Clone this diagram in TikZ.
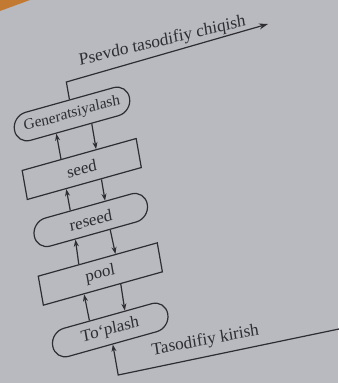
\documentclass[tikz,border=0pt]{standalone}
\usepackage{fontspec}
\setmainfont{Liberation Serif}
\usetikzlibrary{arrows.meta,calc}
\definecolor{paper}{RGB}{184,186,191}
\definecolor{ink}{RGB}{45,45,50}
\definecolor{desk}{RGB}{194,122,50}
\begin{document}
\begin{tikzpicture}[x=1pt,y=1pt,
  % the page is photographed at an angle: horizontals climb, verticals lean
  persp/.style={cm={1,0.28,-0.177,1,(0,0)}},
  box/.style={draw=ink, line width=1.2pt, rectangle, minimum height=29pt,
    inner sep=0pt, text=ink, font=\fontsize{16.5}{18}\selectfont},
  pill/.style={box, rounded corners=14pt, minimum height=28pt},
  caption/.style={text=ink, inner sep=0pt, anchor=base,
    font=\fontsize{17}{19}\selectfont},
  link/.style={draw=ink, line width=1.2pt, -{Stealth[length=7pt,width=5pt]}},
  biglink/.style={link, -{Stealth[length=9pt,width=6pt]}},
]
\fill[paper] (0,0) rectangle (338,-383);
\useasboundingbox (0,0) rectangle (338,-383);
\fill[desk] (0,0) -- (30,0) -- (0,-11) -- cycle;

% the flow column
\begin{scope}[shift={(72,-114)}, persp, transform shape]
  \node[pill, minimum width=115pt, font=\fontsize{15}{17}\selectfont] (gen) at (0,0) {Generatsiyalash};
  \node[box, minimum width=114pt] (seed) at (0,-55) {seed};
  \node[pill, minimum width=113pt] (reseed) at (0,-106) {reseed};
  \node[box, minimum width=119pt] (pool) at (0,-160) {pool};
  \node[pill, minimum width=115pt] (toplash) at (0,-216) {To‘plash};
  \coordinate (outknee) at (0,32);
  \coordinate (inknee) at (0,-261);
\end{scope}

\coordinate (outtip) at (268,-24);
\coordinate (inend) at (339,-329);

% up (left) and down (right) links between neighbours
\foreach \lo/\hi in {seed/gen, reseed/seed, pool/reseed, toplash/pool} {
  \draw[link] ($(\lo.north west)!0.343!(\lo.north east)$) -- ($(\hi.south west)!0.343!(\hi.south east)$);
  \draw[link] ($(\hi.south west)!0.648!(\hi.south east)$) -- ($(\lo.north west)!0.648!(\lo.north east)$);
}

% output and input lines
\draw[biglink] (gen.north) -- (outknee) -- (outtip);
\draw[link] (inend) -- (inknee) -- (toplash.south);

\begin{scope}[shift={(163,-45.5)}, cm={1,0.24,-0.15,1,(0,0)}, transform shape]
  \node[caption] (outlabel) at (0,0) {Psevdo tasodifiy chiqish};
\end{scope}
\begin{scope}[shift={(206,-345)}, cm={1,0.19,-0.15,1,(0,0)}, transform shape]
  \node[caption] (inlabel) at (0,0) {Tasodifiy kirish};
\end{scope}
\end{tikzpicture}
\end{document}
